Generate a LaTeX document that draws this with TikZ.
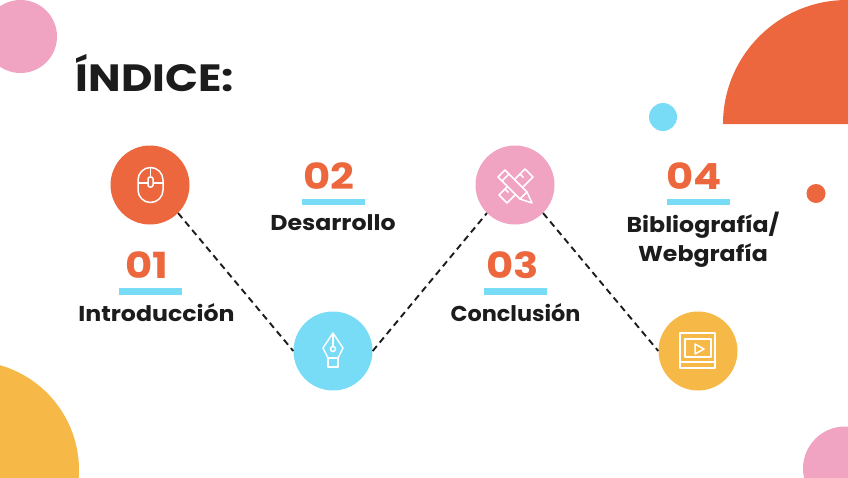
\documentclass[tikz,border=0pt]{standalone}
\usepackage{fontspec}
\setmainfont{Poppins}
\newfontfamily\widefont{Poppins}[FakeStretch=1.1]
\newfontfamily\narrowfont{Poppins}[FakeStretch=1.04]
\newfontfamily\numfont{Poppins}[FakeStretch=1.16]
\newfontfamily\headfont{Poppins}[FakeStretch=1.14]
\usepackage{xcolor}
\usetikzlibrary{positioning}
\definecolor{tomato}{RGB}{236,103,61}
\definecolor{skyblue}{RGB}{121,220,246}
\definecolor{rosepink}{RGB}{241,163,194}
\definecolor{sunyellow}{RGB}{246,184,70}
\definecolor{inkblack}{RGB}{28,28,28}
\tikzset{
  x=1pt,y=-1pt,
  hub/.style={circle,minimum size=79pt,inner sep=0pt},
  num/.style={font=\numfont\fontsize{36}{36}\selectfont\bfseries,text=tomato,inner sep=0pt},
  bar/.style={fill=skyblue,minimum width=63pt,minimum height=6.5pt,inner sep=0pt},
  lab/.style={font=\widefont\fontsize{21.5}{29}\selectfont\bfseries,text=inkblack,align=center,inner sep=0pt},
  link/.style={line width=1.9pt,dash pattern=on 6.5pt off 4.5pt,draw=inkblack},
  icon/.style={draw=white,line width=1.5pt,line join=round}
}
\begin{document}
\begin{tikzpicture}
  \useasboundingbox (0,0) rectangle (848,477);
  % background shapes
  \begin{scope}
    \clip (0,0) rectangle (848,477);
    \fill[rosepink] (20.5,36.5) circle[radius=36.5];
    \fill[tomato] (723,124) arc[start angle=180,end angle=270,radius=124] -- (848,0) -- (848,124) -- cycle;
    \fill[sunyellow] (-30,470) circle[radius=109];
    \fill[rosepink] (845,468.5) circle[radius=42];
  \end{scope}
  \fill[skyblue] (663,117) circle[radius=14];
  \fill[tomato] (816,193.5) circle[radius=9.5];
  % title
  \node[font=\headfont\fontsize{38}{38}\selectfont\bfseries,text=inkblack,inner sep=0pt,anchor=base west] (title) at (75.5,91) {ÍNDICE:};
  % steps
  \node[hub,fill=tomato] (mouse) at (150,185) {};
  \node[hub,fill=skyblue] (pen) at (333,351) {};
  \node[hub,fill=rosepink] (tools) at (515,185) {};
  \node[hub,fill=sunyellow] (video) at (698,351) {};
  \draw[link] (mouse.-45)--(pen.west);
  \draw[link] (pen.east)--(tools.-135);
  \draw[link] (tools.-45)--(video.west);
  \node[bar] (bara) at (150.5,291.5) {};
  \node[bar] (barb) at (333,202) {};
  \node[bar] (barc) at (515.5,291.5) {};
  \node[bar] (bard) at (698,202) {};
  \node[num,above=9pt of bara,xshift=-3.5pt] (numa) {01};
  \node[num,above=9pt of barb,xshift=-4pt] (numb) {02};
  \node[num,above=9pt of barc,xshift=-2.5pt] (numc) {03};
  \node[num,above=9pt of bard,xshift=-3.5pt] (numd) {04};
  \node[lab,below=8pt of bara,xshift=6pt] (laba) {Introducción};
  \node[lab,below=9pt of barb] (labb) {Desarrollo};
  \node[lab,below=8pt of barc] (labc) {\narrowfont Conclusión};
  \node[lab,below=6pt of bard,xshift=5pt] (labd) {Bibliografía/\\Webgrafía};
  % mouse icon
  \draw[icon] (138,180) arc[start angle=180,end angle=360,radius=12.5] -- (163,190) arc[start angle=0,end angle=180,radius=12.5] -- cycle;
  \draw[icon] (138,183) -- (148,183) (153,183) -- (163,183) (150.5,167.5) -- (150.5,177);
  \draw[icon,rounded corners=2pt] (148,177) rectangle (153,187);
  % pen icon
  \draw[icon] (333,333) -- (323,348) -- (328,358) -- (338,358) -- (343,348) -- cycle;
  \draw[icon] (333,333) -- (333,346.5);
  \draw[icon] (333,349) circle[radius=2.5];
  \draw[icon] (328,358) rectangle (338,367);
  % tools icon
  \draw[icon] (525,169) -- (533,177) -- (507,203) -- (499,195) -- cycle;
  \draw[icon] (520,174) -- (523.5,177.5) (505,189) -- (508.5,192.5);
  \draw[icon,fill=rosepink] (498,177) -- (505,170) -- (527,192) -- (532,203) -- (520,199) -- cycle;
  \draw[icon] (502,181) -- (509,174) (520,199) -- (527,192);
  % video icon
  \draw[icon] (680,333) rectangle (715,368);
  \draw[icon] (685,339) rectangle (711,357);
  \draw[icon] (680,362) -- (715,362);
  \draw[icon] (695,344) -- (704,349) -- (695,354) -- cycle;
\end{tikzpicture}
\end{document}
